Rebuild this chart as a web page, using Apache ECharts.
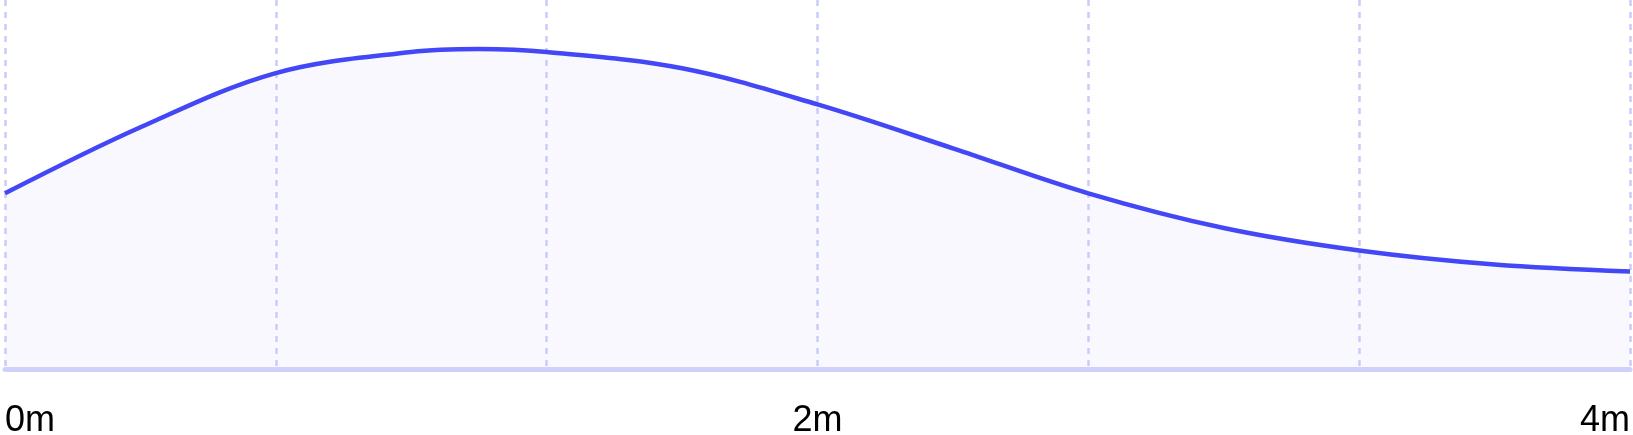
<!DOCTYPE html>
<html>
<head>
<meta charset="utf-8">
<script src="https://cdn.jsdelivr.net/npm/echarts@6/dist/echarts.min.js"></script>
<style>
  html, body { margin: 0; padding: 0; background: #fff; }
  #chart { width: 1633px; height: 435px; }
</style>
</head>
<body>
<div id="chart"></div>
<script>
// time in seconds along the x axis
const seconds = [0, 20, 40, 60, 70, 80, 100, 120, 140, 160, 180, 200, 220, 240]
// curve height (percent of plot height)
const values = [47.6, 65.5, 80.2, 85.9, 86.7, 85.9, 81.5, 71.7, 59.8, 47.6, 38.2, 32.1, 28.3, 26.4]
// tick labels shown on the x axis
const tickLabels = { 0: '0m', 120: '2m', 240: '4m' }

const chart = echarts.init(document.getElementById('chart'))

const points = seconds.map((s, i) => [s, values[i]])

const option = {
  animation: false,
  grid: { left: 5, right: 3, top: 0, bottom: 66, containLabel: false, outerBoundsMode: 'none' },
  xAxis: {
    type: 'value',
    min: 0,
    max: 240,
    interval: 40,
    z: 1,
    axisLine: { show: true, lineStyle: { color: '#cfd1fb', width: 5 } },
    axisTick: { show: false },
    splitLine: { show: true, lineStyle: { color: '#c9ccfa', width: 2.5, type: [6, 6] } },
    axisLabel: {
      margin: 34,
      fontSize: 36,
      fontFamily: 'Liberation Sans, Arial, sans-serif',
      color: '#000',
      alignMinLabel: 'left',
      alignMaxLabel: 'right',
      formatter: (v) => tickLabels[v] || ''
    }
  },
  yAxis: {
    type: 'value',
    min: 0,
    max: 100,
    show: false,
    splitLine: { show: false }
  },
  series: [
    // fill under the curve, kept below the grid lines
    {
      type: 'line',
      z: 0,
      data: points,
      smooth: 0.35,
      showSymbol: false,
      lineStyle: { width: 0 },
      areaStyle: { color: '#f8f8fe', opacity: 1 }
    },
    // the curve itself, on top
    {
      type: 'line',
      z: 3,
      data: points,
      smooth: 0.35,
      showSymbol: false,
      lineStyle: { color: '#4347f5', width: 4.5 }
    }
  ]
}

chart.setOption(option)
</script>
</body>
</html>
